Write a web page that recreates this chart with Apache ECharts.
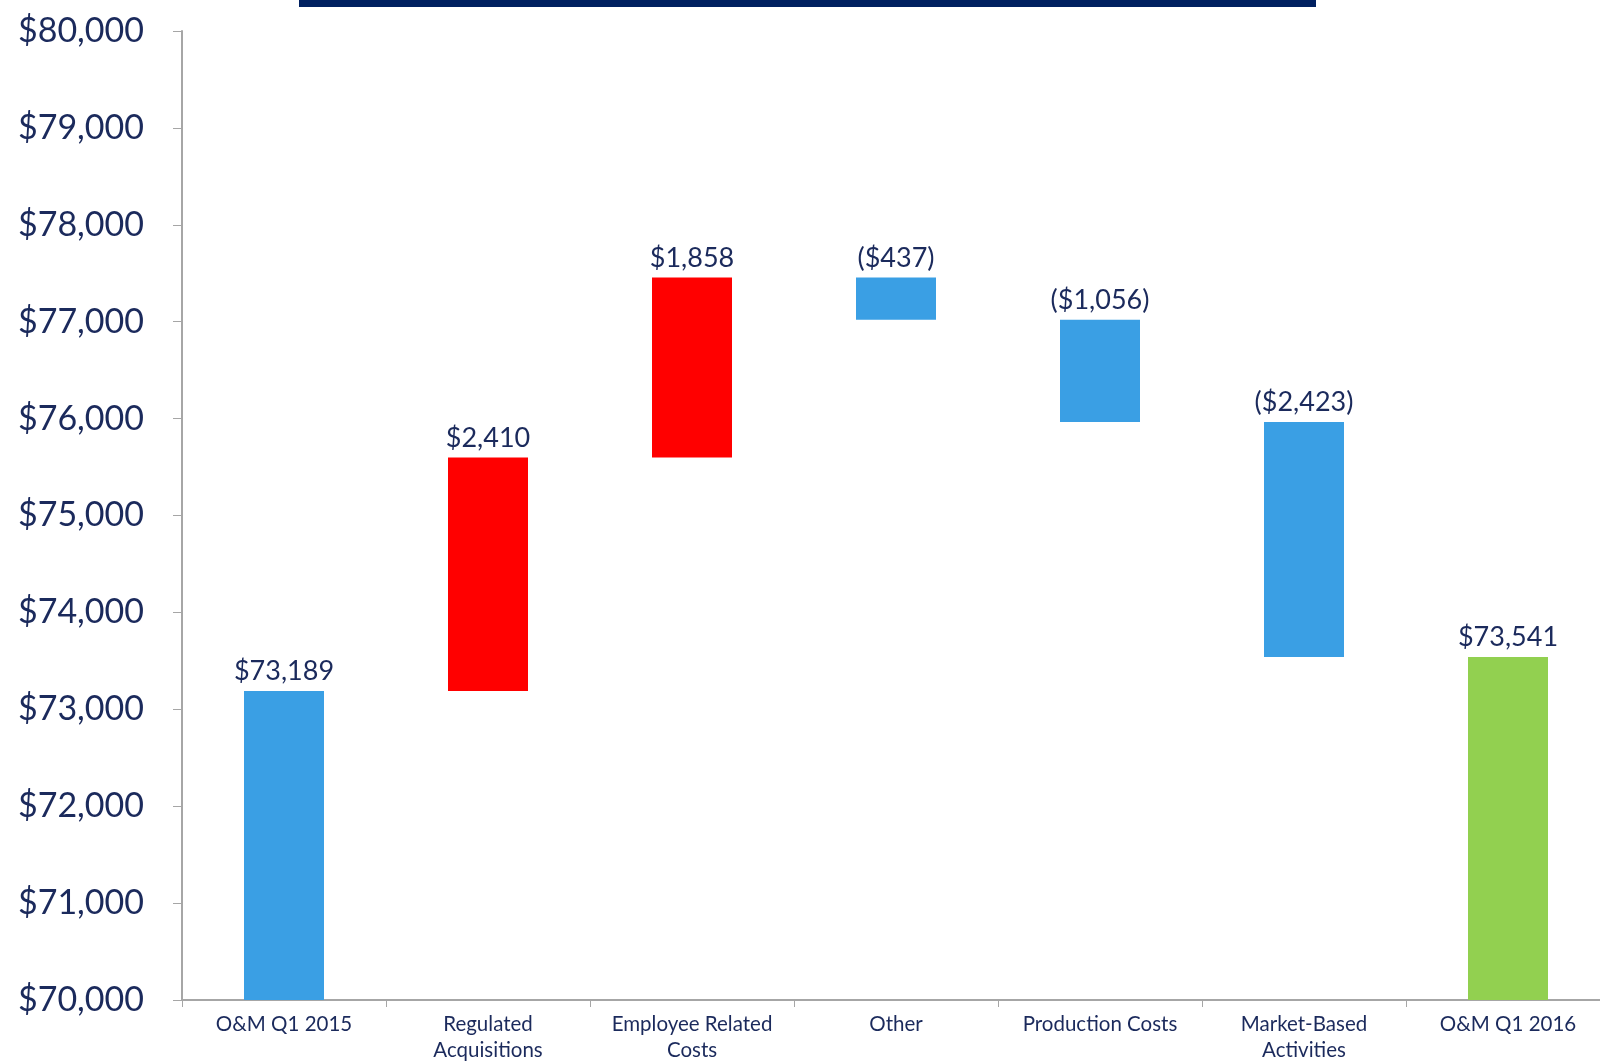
<!DOCTYPE html>
<html><head><meta charset="utf-8">
<script src="https://cdn.jsdelivr.net/npm/echarts@6/dist/echarts.min.js"></script>
<style>html,body{margin:0;padding:0;background:#fff}#c{width:1600px;height:1061px}</style>
</head><body><div id="c"></div>
<script>
var categories = ['O&M Q1 2015', 'Regulated\nAcquisitions', 'Employee Related\nCosts', 'Other', 'Production Costs', 'Market-Based\nActivities', 'O&M Q1 2016'];
var startValue = 73189;
var changes = [2410, 1858, -437, -1056, -2423];
var endValue = 73541;
var yTicks = [70000, 80000, 1000];

var navy = '#1b2a5c';
var blue = '#3a9fe4', red = '#ff0000', green = '#92d050';

// build waterfall from the named arrays
var base = [], visible = [], colors = [], labels = [];
var axisMin = yTicks[0];
base.push(axisMin); visible.push(startValue - axisMin); colors.push(blue); labels.push(startValue);
var run = startValue;
changes.forEach(function (d) {
  var next = run + d;
  base.push(Math.min(run, next));
  visible.push(Math.abs(d));
  colors.push(d >= 0 ? red : blue);
  labels.push(d);
  run = next;
});
base.push(axisMin); visible.push(endValue - axisMin); colors.push(green); labels.push(endValue);

function fmt(v) {
  var s = '$' + Math.abs(v).toLocaleString('en-US');
  return v < 0 ? '(' + s + ')' : s;
}

var chart = echarts.init(document.getElementById('c'));
chart.setOption({
  animation: false,
  textStyle: { fontFamily: 'Lato' },
  grid: { left: 182, width: 1428, top: 31, height: 969, containLabel: false, outerBoundsMode: 'none' },
  graphic: [{ type: 'rect', shape: { x: 299, y: 0, width: 1017, height: 7 }, style: { fill: '#002060' } }],
  xAxis: {
    type: 'category', data: categories,
    axisLine: { lineStyle: { color: '#a6a6a6', width: 2 } },
    axisTick: { show: true, length: 7, lineStyle: { color: '#a6a6a6' }, alignWithLabel: false },
    axisLabel: { color: navy, fontSize: 20.5, margin: 11, lineHeight: 26, interval: 0, fontFamily: 'Lato' }
  },
  yAxis: {
    type: 'value', min: yTicks[0], max: yTicks[1], interval: yTicks[2],
    axisLine: { show: true, lineStyle: { color: '#a6a6a6', width: 2 } },
    axisTick: { show: true, length: 9, lineStyle: { color: '#a6a6a6' } },
    splitLine: { show: false },
    axisLabel: { color: navy, fontSize: 34, margin: 38, fontFamily: 'Lato',
      formatter: function (v) { return '$' + v.toLocaleString('en-US'); } }
  },
  series: [
    { type: 'bar', stack: 'w', data: base, itemStyle: { color: 'transparent' }, barWidth: 80, silent: true },
    { type: 'bar', stack: 'w', barWidth: 80,
      data: visible.map(function (v, i) { return { value: v, itemStyle: { color: colors[i] } }; }),
      label: { show: true, position: 'top', distance: 6, color: navy, fontSize: 27, fontFamily: 'Lato',
        formatter: function (p) { return fmt(labels[p.dataIndex]); } } }
  ]
});
</script></body></html>
